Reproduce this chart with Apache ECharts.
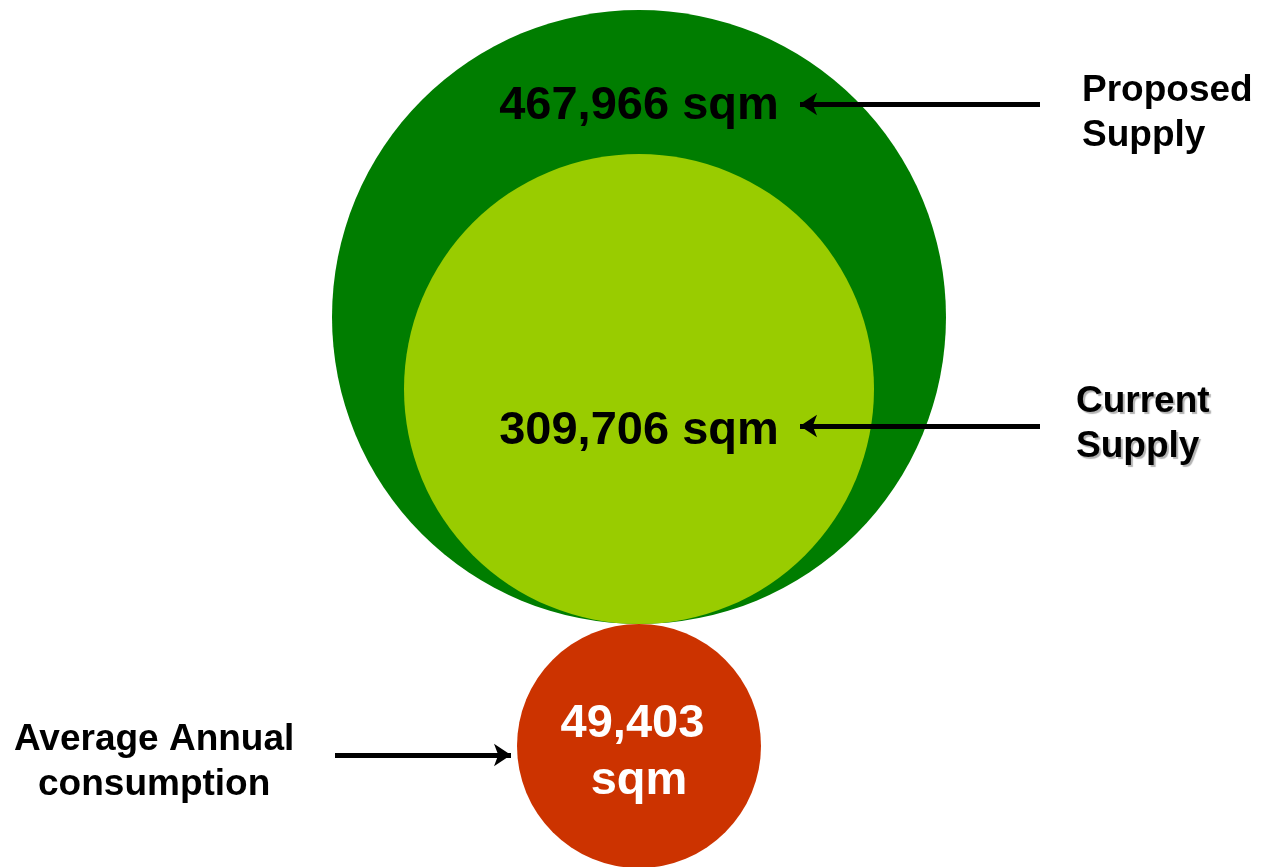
<!DOCTYPE html>
<html>
<head>
<meta charset="utf-8">
<title>Supply vs Consumption</title>
<script src="https://cdn.jsdelivr.net/npm/echarts@6/dist/echarts.min.js"></script>
<style>
  html, body { margin: 0; padding: 0; background: #ffffff; }
  #chart { width: 1274px; height: 867px; }
</style>
</head>
<body>
<div id="chart"></div>
<script>
// ---- data ----
const categories = ['Proposed\nSupply', 'Current\nSupply', 'Average Annual\nconsumption'];
const values = [467966, 309706, 49403];
const unit = 'sqm';

// ---- styling / layout (pixel units of the hidden axes) ----
const colors = ['#007d00', '#99cc00', '#cc3300'];
const radii = [307, 235, 122];          // illustrative circle sizes
const centerX = 639;
const groundY = 624;                    // the two supply circles sit on this line
const FONT = "'Liberation Sans', Arial, Helvetica, sans-serif";

// circle centres: supply circles share a bottom edge, consumption circle hangs below it
const centers = [
  [centerX, groundY - radii[0]],
  [centerX, groundY - radii[1]],
  [centerX, groundY + radii[2]]
];

const fmt = v => v.toLocaleString('en-US');

// value label placement inside each circle (vertical pixel position)
const labelY = [106, 431, 753];

const circleData = values.map((v, i) => {
  const isConsumption = i === 2;
  return {
    name: categories[i],
    value: centers[i],
    symbolSize: radii[i] * 2,
    itemStyle: { color: colors[i], opacity: 1 },
    label: {
      show: true,
      position: 'inside',
      offset: [0, labelY[i] - centers[i][1]],
      // the small circle wraps "value unit" onto two lines
      formatter: isConsumption ? fmt(v) + ' \n' + unit : fmt(v) + ' ' + unit,
      color: isConsumption ? '#ffffff' : '#000000',
      opacity: 1,
      fontFamily: FONT,
      fontWeight: 'bold',
      fontSize: 47,
      lineHeight: 57
    }
  };
});

// arrows pointing from the side captions to the values
const arrowTailX = 1040, arrowTipX = 800;
const arrows = [
  { coords: [[arrowTailX, 104], [arrowTipX, 104]] },
  { coords: [[arrowTailX, 426], [arrowTipX, 426]] },
  { coords: [[335, 755], [centers[2][0] - radii[2] - 6, 755]] }
];

// side captions
const captionStyle = {
  fontFamily: FONT, fontWeight: 'bold', fontSize: 37, lineHeight: 45, fill: '#000'
};

const chart = echarts.init(document.getElementById('chart'), null, { renderer: 'canvas' });
chart.setOption({
  animation: false,
  backgroundColor: '#ffffff',
  grid: { left: 0, right: 0, top: 0, bottom: 0 },
  xAxis: { type: 'value', min: 0, max: 1274, show: false },
  yAxis: { type: 'value', min: 0, max: 867, inverse: true, show: false },
  series: [
    {
      type: 'scatter',
      symbol: 'circle',
      data: circleData,
      emphasis: { disabled: true },
      z: 2
    },
    {
      type: 'lines',
      coordinateSystem: 'cartesian2d',
      data: arrows,
      symbol: ['none', 'arrow'],
      symbolSize: 17,
      lineStyle: { color: '#000', width: 5, opacity: 1 },
      z: 3
    }
  ],
  graphic: [
    {
      type: 'text', left: 1082, top: 68,
      style: Object.assign({ text: categories[0], textAlign: 'left' }, captionStyle)
    },
    {
      type: 'text', left: 1076, top: 379,
      style: Object.assign({
        text: categories[1], textAlign: 'left',
        textShadowColor: 'rgba(0,0,0,0.3)', textShadowOffsetX: 2, textShadowOffsetY: 2, textShadowBlur: 1
      }, captionStyle)
    },
    {
      type: 'text', left: 14, top: 717,
      style: Object.assign({ text: categories[2], textAlign: 'center' }, captionStyle)
    }
  ]
});
</script>
</body>
</html>
